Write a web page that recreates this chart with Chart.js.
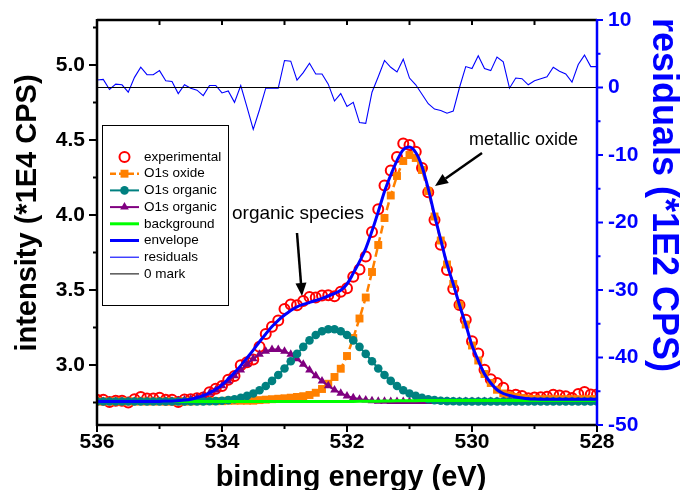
<!DOCTYPE html>
<html>
<head>
<meta charset="utf-8">
<script src="https://cdn.jsdelivr.net/npm/chart.js@4.4.0/dist/chart.umd.min.js"></script>
<style>
  html, body { margin: 0; padding: 0; background: #fff; }
  #wrap { width: 683px; height: 490px; }
</style>
</head>
<body>
<div id="wrap"><canvas id="myChart" width="683" height="490"></canvas></div>
<script>
// binding energy grid (eV)
const energy = [
  536.0, 535.9, 535.8, 535.7, 535.6, 535.5, 535.4, 535.3, 535.2, 535.1,
  535.0, 534.9, 534.8, 534.7, 534.6, 534.5, 534.4, 534.3, 534.2, 534.1,
  534.0, 533.9, 533.8, 533.7, 533.6, 533.5, 533.4, 533.3, 533.2, 533.1,
  533.0, 532.9, 532.8, 532.7, 532.6, 532.5, 532.4, 532.3, 532.2, 532.1,
  532.0, 531.9, 531.8, 531.7, 531.6, 531.5, 531.4, 531.3, 531.2, 531.1,
  531.0, 530.9, 530.8, 530.7, 530.6, 530.5, 530.4, 530.3, 530.2, 530.1,
  530.0, 529.9, 529.8, 529.7, 529.6, 529.5, 529.4, 529.3, 529.2, 529.1,
  529.0, 528.9, 528.8, 528.7, 528.6, 528.5, 528.4, 528.3, 528.2, 528.1,
  528.0
];

// intensity, *1E4 CPS
const experimental = [
  2.768, 2.769, 2.754, 2.762, 2.761, 2.750, 2.772, 2.787, 2.776, 2.776,
  2.782, 2.768, 2.768, 2.753, 2.770, 2.771, 2.779, 2.784, 2.818, 2.841,
  2.860, 2.902, 2.927, 2.999, 3.018, 3.037, 3.122, 3.206, 3.255, 3.297,
  3.373, 3.403, 3.399, 3.426, 3.453, 3.450, 3.464, 3.465, 3.458, 3.489,
  3.512, 3.589, 3.637, 3.723, 3.886, 4.038, 4.197, 4.297, 4.386, 4.477,
  4.467, 4.421, 4.314, 4.151, 3.967, 3.801, 3.634, 3.506, 3.400, 3.301,
  3.158, 3.077, 2.968, 2.905, 2.880, 2.848, 2.796, 2.801, 2.793, 2.779,
  2.783, 2.785, 2.788, 2.802, 2.796, 2.792, 2.780, 2.806, 2.820, 2.803,
  2.803
];

const oxide = [
  2.757, 2.757, 2.757, 2.757, 2.757, 2.757, 2.757, 2.757, 2.757, 2.757,
  2.757, 2.757, 2.757, 2.757, 2.757, 2.757, 2.759, 2.759, 2.759, 2.759,
  2.759, 2.762, 2.762, 2.762, 2.762, 2.762, 2.766, 2.769, 2.772, 2.775,
  2.778, 2.782, 2.787, 2.792, 2.800, 2.815, 2.840, 2.875, 2.920, 2.975,
  3.060, 3.180, 3.310, 3.450, 3.620, 3.800, 3.980, 4.130, 4.260, 4.360,
  4.400, 4.380, 4.300, 4.160, 3.990, 3.830, 3.670, 3.540, 3.400, 3.270,
  3.130, 3.030, 2.940, 2.880, 2.835, 2.810, 2.797, 2.787, 2.780, 2.775,
  2.773, 2.772, 2.772, 2.772, 2.772, 2.772, 2.772, 2.772, 2.772, 2.772,
  2.772
];

const organicA = [
  2.757, 2.757, 2.757, 2.757, 2.757, 2.757, 2.757, 2.757, 2.757, 2.757,
  2.757, 2.757, 2.757, 2.757, 2.757, 2.757, 2.757, 2.757, 2.758, 2.759,
  2.762, 2.766, 2.772, 2.781, 2.794, 2.810, 2.832, 2.860, 2.894, 2.933,
  2.977, 3.025, 3.074, 3.121, 3.164, 3.200, 3.225, 3.238, 3.238, 3.225,
  3.200, 3.164, 3.121, 3.074, 3.025, 2.977, 2.933, 2.894, 2.860, 2.832,
  2.810, 2.794, 2.781, 2.772, 2.766, 2.762, 2.759, 2.758, 2.757, 2.757,
  2.757, 2.757, 2.757, 2.757, 2.757, 2.757, 2.757, 2.757, 2.757, 2.757,
  2.757, 2.757, 2.757, 2.757, 2.757, 2.757, 2.757, 2.757, 2.757, 2.757,
  2.757
];

const organicB = [
  2.757, 2.757, 2.757, 2.757, 2.757, 2.757, 2.757, 2.757, 2.757, 2.757,
  2.757, 2.758, 2.759, 2.762, 2.766, 2.772, 2.781, 2.794, 2.812, 2.834,
  2.861, 2.893, 2.929, 2.967, 3.005, 3.041, 3.071, 3.092, 3.104, 3.104,
  3.092, 3.071, 3.041, 3.005, 2.967, 2.929, 2.893, 2.861, 2.834, 2.812,
  2.794, 2.781, 2.772, 2.766, 2.762, 2.759, 2.758, 2.757, 2.757, 2.757,
  2.757, 2.757, 2.757, 2.757, 2.757, 2.757, 2.757, 2.757, 2.757, 2.757,
  2.757, 2.757, 2.757, 2.757, 2.757, 2.757, 2.757, 2.757, 2.757, 2.757,
  2.757, 2.757, 2.757, 2.757, 2.757, 2.757, 2.757, 2.757, 2.757, 2.757,
  2.757
];

const background = [
  2.756, 2.756, 2.756, 2.756, 2.756, 2.756, 2.756, 2.756, 2.756, 2.756,
  2.756, 2.756, 2.756, 2.756, 2.756, 2.756, 2.756, 2.756, 2.756, 2.756,
  2.756, 2.756, 2.756, 2.756, 2.756, 2.756, 2.756, 2.756, 2.756, 2.756,
  2.756, 2.756, 2.756, 2.756, 2.756, 2.756, 2.756, 2.756, 2.756, 2.756,
  2.757, 2.757, 2.758, 2.758, 2.759, 2.759, 2.760, 2.760, 2.761, 2.761,
  2.762, 2.762, 2.763, 2.763, 2.763, 2.764, 2.764, 2.764, 2.764, 2.764,
  2.764, 2.764, 2.764, 2.764, 2.764, 2.764, 2.764, 2.764, 2.764, 2.764,
  2.764, 2.764, 2.764, 2.764, 2.764, 2.764, 2.764, 2.764, 2.764, 2.764,
  2.764
];

const envelope = [
  2.757, 2.757, 2.757, 2.757, 2.757, 2.757, 2.757, 2.757, 2.757, 2.757,
  2.757, 2.758, 2.759, 2.762, 2.766, 2.772, 2.783, 2.796, 2.815, 2.838,
  2.868, 2.907, 2.949, 2.996, 3.047, 3.099, 3.155, 3.207, 3.256, 3.298,
  3.333, 3.364, 3.388, 3.404, 3.417, 3.430, 3.444, 3.460, 3.478, 3.498,
  3.540, 3.611, 3.689, 3.776, 3.893, 4.022, 4.157, 4.267, 4.363, 4.435,
  4.453, 4.417, 4.324, 4.175, 3.999, 3.835, 3.672, 3.541, 3.400, 3.270,
  3.130, 3.030, 2.940, 2.880, 2.835, 2.810, 2.797, 2.787, 2.780, 2.775,
  2.773, 2.772, 2.772, 2.772, 2.772, 2.772, 2.772, 2.772, 2.772, 2.772,
  2.772
];

// residuals, *1E2 CPS (right axis)
const residuals = [
  1.1, 1.2, -0.3, 0.5, 0.4, -0.7, 1.5, 3.0, 1.9, 1.9,
  2.5, 1.0, 0.9, -0.9, 0.4, -0.1, -0.4, -1.2, 0.3, 0.3,
  -0.8, -0.5, -2.2, 0.3, -2.9, -6.2, -3.3, -0.1, -0.1, -0.1,
  4.0, 3.9, 1.1, 2.2, 3.6, 2.0, 2.0, 0.5, -2.0, -0.9,
  -2.8, -2.2, -5.2, -5.3, -0.7, 1.6, 4.0, 3.0, 2.3, 4.2,
  1.4, 0.4, -1.0, -2.4, -3.2, -3.4, -3.8, -3.5, 0.0, 3.1,
  2.8, 4.7, 2.8, 2.5, 4.5, 3.8, -0.1, 1.4, 1.3, 0.4,
  1.0, 1.3, 1.6, 3.0, 2.4, 2.0, 0.8, 3.4, 4.8, 3.1,
  3.1
];
const zeroLevel = 0;

const xTicks = [536, 534, 532, 530, 528];
const leftTicks = [3.0, 3.5, 4.0, 4.5, 5.0];
const rightTicks = [-50, -40, -30, -20, -10, 0, 10];

const FONT = 'Arial, "Liberation Sans", sans-serif';
const BLUE = '#0000ff';

const pts = arr => energy.map((e, i) => ({ x: e, y: arr[i] }));

function line(ctx, x1, y1, x2, y2) {
  ctx.beginPath();
  ctx.moveTo(x1, y1);
  ctx.lineTo(x2, y2);
  ctx.stroke();
}

function arrow(ctx, x1, y1, x2, y2) {
  const ang = Math.atan2(y2 - y1, x2 - x1);
  const len = 13, half = 5.5;
  const bx = x2 - Math.cos(ang) * len, by = y2 - Math.sin(ang) * len;
  ctx.lineWidth = 2.5;
  line(ctx, x1, y1, bx, by);
  ctx.beginPath();
  ctx.moveTo(x2, y2);
  ctx.lineTo(bx + Math.sin(ang) * half, by - Math.cos(ang) * half);
  ctx.lineTo(bx - Math.sin(ang) * half, by + Math.cos(ang) * half);
  ctx.closePath();
  ctx.fill();
}

const decor = {
  id: 'decor',
  afterDatasetsDraw(chart) {
    const { ctx, chartArea: a, scales } = chart;
    const L = a.left, R = a.right, T = a.top, B = a.bottom;
    ctx.save();
    // frame
    ctx.lineWidth = 2.5;
    ctx.strokeStyle = '#000';
    line(ctx, L, T, R, T);
    line(ctx, L - 1, B, R, B);
    line(ctx, L, T - 1, L, B + 1);
    ctx.strokeStyle = BLUE;
    line(ctx, R, T - 1, R, B + 1);

    // left ticks
    ctx.lineWidth = 2;
    ctx.strokeStyle = '#000';
    leftTicks.forEach(v => {
      const y = scales.y.getPixelForValue(v);
      line(ctx, L - 8, y, L, y);
    });
    for (let v = 2.75; v < 5.3; v += 0.5) {
      const y = scales.y.getPixelForValue(v);
      line(ctx, L - 4, y, L, y);
    }
    // bottom + top ticks
    xTicks.forEach(v => {
      const x = scales.x.getPixelForValue(v);
      line(ctx, x, B, x, B + 7);
    });
    for (let v = 529; v <= 535; v += 2) {
      const x = scales.x.getPixelForValue(v);
      line(ctx, x, B, x, B + 4);
    }
    for (let v = 529; v <= 535; v += 1) {
      const x = scales.x.getPixelForValue(v);
      line(ctx, x, T, x, T + 5);
    }
    // right ticks
    ctx.strokeStyle = BLUE;
    rightTicks.forEach(v => {
      const y = scales.yR.getPixelForValue(v);
      line(ctx, R, y, R + 6, y);
    });
    for (let v = -45; v <= 5; v += 10) {
      const y = scales.yR.getPixelForValue(v);
      line(ctx, R, y, R + 3.5, y);
    }
    ctx.restore();
  },
  afterDraw(chart) {
    const ctx = chart.ctx;
    ctx.save();

    // axis titles
    ctx.fillStyle = '#000';
    ctx.font = 'bold 29px ' + FONT;
    ctx.textAlign = 'center';
    ctx.textBaseline = 'alphabetic';
    ctx.fillText('binding energy (eV)', 351, 486);

    ctx.save();
    ctx.translate(36, 213);
    ctx.rotate(-Math.PI / 2);
    ctx.fillText('intensity (*1E4 CPS)', 0, 0);
    ctx.restore();

    ctx.save();
    ctx.fillStyle = BLUE;
    ctx.font = 'bold 36px ' + FONT;
    ctx.translate(653, 195);
    ctx.rotate(Math.PI / 2);
    ctx.fillText('residuals (*1E2 CPS)', 0, 0);
    ctx.restore();

    // annotations
    ctx.fillStyle = '#000';
    ctx.strokeStyle = '#000';
    ctx.textAlign = 'left';
    ctx.font = '18px ' + FONT;
    ctx.fillText('metallic oxide', 469, 145);
    ctx.font = '19px ' + FONT;
    ctx.fillText('organic species', 232, 219);
    arrow(ctx, 482, 153, 435, 186);
    arrow(ctx, 297, 233, 302, 296);

    // legend box
    ctx.fillStyle = '#fff';
    ctx.fillRect(102, 125, 126, 180);
    ctx.lineWidth = 1;
    ctx.strokeStyle = '#000';
    ctx.strokeRect(102.5, 125.5, 126, 180);

    chart.data.datasets.forEach((d, i) => {
      const y = 157 + i * 16.7;
      if (d.showLine !== false) {
        ctx.save();
        ctx.strokeStyle = d.borderColor;
        ctx.lineWidth = d.borderWidth;
        ctx.setLineDash(d.borderDash ? [6, 3] : []);
        line(ctx, 110, y, 139, y);
        ctx.restore();
      }
      if (d.pointRadius > 0) {
        ctx.save();
        ctx.fillStyle = d.pointBackgroundColor;
        ctx.strokeStyle = d.pointBorderColor || d.borderColor;
        ctx.lineWidth = d.pointBorderWidth;
        Chart.helpers.drawPoint(ctx, {
          pointStyle: d.pointStyle, radius: d.pointRadius, rotation: 0,
          borderWidth: d.pointBorderWidth
        }, 124.5, y);
        ctx.restore();
      }
      ctx.fillStyle = '#000';
      ctx.font = '13.5px ' + FONT;
      ctx.textBaseline = 'middle';
      ctx.textAlign = 'left';
      ctx.fillText(d.label, 144, y);
    });
    ctx.restore();
  }
};

const tickFont = { family: FONT, size: 21, weight: 'bold' };

// vertical scales: fixed width, no extra label padding above/below the plot
const fitY = w => s => { s.width = w; s.paddingTop = 0; s.paddingBottom = 0; };

new Chart(document.getElementById('myChart').getContext('2d'), {
  type: 'line',
  data: {
    datasets: [
      { label: 'experimental', data: pts(experimental), yAxisID: 'y', showLine: false,
        pointStyle: 'circle', pointRadius: 5, pointBorderWidth: 2,
        pointBorderColor: '#ff0000', pointBackgroundColor: 'rgba(0,0,0,0)',
        borderColor: '#ff0000', order: 8 },
      { label: 'O1s oxide', data: pts(oxide), yAxisID: 'y',
        borderColor: '#ff8000', borderWidth: 2.5, borderDash: [8, 4],
        pointStyle: 'rect', pointRadius: 5.6, pointBorderWidth: 0,
        pointBackgroundColor: '#ff8000', order: 7 },
      { label: 'O1s organic', data: pts(organicA), yAxisID: 'y',
        borderColor: '#008080', borderWidth: 2,
        pointStyle: 'circle', pointRadius: 4.3, pointBorderWidth: 0,
        pointBackgroundColor: '#008080', order: 5 },
      { label: 'O1s organic', data: pts(organicB), yAxisID: 'y',
        borderColor: '#800080', borderWidth: 2,
        pointStyle: 'triangle', pointRadius: 5, pointBorderWidth: 0,
        pointBackgroundColor: '#800080', order: 6 },
      { label: 'background', data: pts(background), yAxisID: 'y',
        borderColor: '#00ff00', borderWidth: 3, pointRadius: 0, order: 4 },
      { label: 'envelope', data: pts(envelope), yAxisID: 'y',
        borderColor: BLUE, borderWidth: 3, pointRadius: 0,
        cubicInterpolationMode: 'monotone', order: 3 },
      { label: 'residuals', data: pts(residuals), yAxisID: 'yR',
        borderColor: BLUE, borderWidth: 1.1, pointRadius: 0, order: 2 },
      { label: '0 mark', yAxisID: 'yR',
        data: [{ x: energy[0], y: zeroLevel }, { x: energy[energy.length - 1], y: zeroLevel }],
        borderColor: '#000', borderWidth: 1, pointRadius: 0, order: 1 }
    ]
  },
  options: {
    responsive: false,
    animation: false,
    devicePixelRatio: 1,
    events: [],
    layout: { padding: { top: 20, left: 0, right: 0, bottom: 0 } },
    plugins: { legend: { display: false }, tooltip: { enabled: false } },
    scales: {
      x: {
        type: 'linear', reverse: true, min: 528, max: 536,
        afterBuildTicks: s => { s.ticks = xTicks.map(v => ({ value: v })); },
        afterFit: s => { s.height = 65; },
        grid: { display: false, drawTicks: false },
        border: { display: false },
        ticks: { font: tickFont, color: '#000', padding: 5, maxRotation: 0, autoSkip: false,
                 callback: v => String(v) }
      },
      y: {
        type: 'linear', position: 'left', min: 2.6, max: 5.3,
        afterBuildTicks: s => { s.ticks = leftTicks.map(v => ({ value: v })); },
        afterFit: fitY(97),
        grid: { display: false, drawTicks: false },
        border: { display: false },
        ticks: { font: tickFont, color: '#000', padding: 12, callback: v => v.toFixed(1) }
      },
      yR: {
        type: 'linear', position: 'right', min: -50, max: 10,
        afterBuildTicks: s => { s.ticks = rightTicks.map(v => ({ value: v })); },
        afterFit: fitY(86),
        grid: { display: false, drawTicks: false },
        border: { display: false },
        ticks: { font: tickFont, color: BLUE, padding: 11, callback: v => String(v) }
      }
    }
  },
  plugins: [decor]
});
</script>
</body>
</html>
